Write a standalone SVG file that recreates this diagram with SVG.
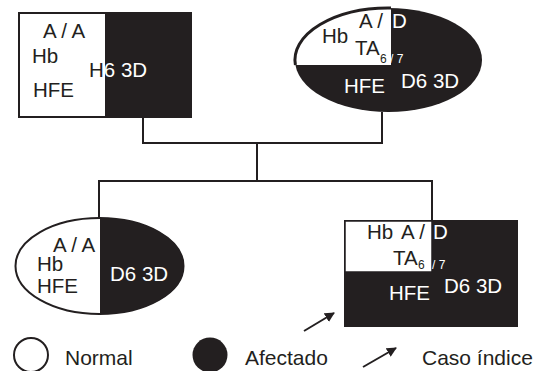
<svg xmlns="http://www.w3.org/2000/svg" width="534" height="371" viewBox="0 0 534 371">
<style>
text{font-family:"Liberation Sans",Arial,sans-serif;font-size:20.5px;fill:#231f20}
.w{fill:#fff}
.sub{font-size:12px}
.lg{font-size:21px}
.line{fill:none;stroke:#231f20;stroke-width:2}
.dark{fill:#231f20}
</style>
<defs>
<marker id="ah" viewBox="0 0 10 10" refX="9" refY="5" markerWidth="10" markerHeight="10" markerUnits="userSpaceOnUse" orient="auto">
<path d="M0,0 L10,5 L0,10 Z" fill="#231f20"/>
</marker>
</defs>
<rect width="534" height="371" fill="#fff"/>
<g id="connectors">
<path class="line" d="M143,118 V143 H382 V112"/>
<path class="line" d="M257,143 V181"/>
<path class="line" d="M99,219 V181 H432 V220"/>
<path class="line" stroke-width="1.5" d="M304,331 L334,313" marker-end="url(#ah)"/>
</g>
<g id="father">
<rect class="dark" x="106" y="12" width="86" height="106"/>
<rect x="19" y="13" width="87" height="104" fill="#fff" stroke="#231f20" stroke-width="2"/>
<text x="43" y="38">A / A</text>
<text x="32" y="63">Hb</text>
<text x="89" y="77">H<tspan class="w">6 3D</tspan></text>
<text x="33" y="97">HFE</text>
</g>
<g id="mother">
<ellipse class="dark" cx="388.5" cy="60" rx="93.5" ry="52"/>
<path d="M391,65 L295.4,65 A93.5,52 0 0,1 391,8 Z" fill="#fff"/>
<path d="M295.4,65 A93.5,52 0 0,1 391,8" fill="none" stroke="#231f20" stroke-width="3"/>
<text x="359" y="28">A / <tspan class="w" x="392">D</tspan></text>
<text x="322" y="43">Hb</text>
<text x="355" y="55">TA<tspan class="sub" x="380" y="63">6 <tspan class="w">/ 7</tspan></tspan></text>
<text class="w" x="344" y="93">HFE</text>
<text class="w" x="401" y="88">D6 3D</text>
</g>
<g id="daughter">
<ellipse cx="99.5" cy="266" rx="84" ry="48" fill="#fff" stroke="#231f20" stroke-width="2"/>
<path class="dark" d="M100,218 A84,48 0 0,1 100,314 Z"/>
<text x="53" y="252">A / A</text>
<text x="37" y="271">Hb</text>
<text x="37" y="293">HFE</text>
<text class="w" x="110" y="281">D6 3D</text>
</g>
<g id="son">
<rect class="dark" x="344" y="220" width="174" height="107"/>
<rect x="345" y="221" width="87" height="51" fill="#fff" stroke="#231f20" stroke-width="1.5"/>
<text x="367" y="239">Hb</text>
<text x="401" y="239">A / <tspan class="w" x="433">D</tspan></text>
<text x="393" y="265">TA<tspan class="sub" x="418" y="269">6 <tspan class="w" x="432">/ 7</tspan></tspan></text>
<text class="w" x="389" y="300">HFE</text>
<text class="w" x="444" y="293">D6 3D</text>
</g>
<g id="legend">
<circle cx="31" cy="355" r="17" fill="#fff" stroke="#231f20" stroke-width="2"/>
<text class="lg" x="65" y="365">Normal</text>
<circle class="dark" cx="210" cy="355" r="17.5"/>
<text class="lg" x="245" y="365">Afectado</text>
<path class="line" stroke-width="1.5" d="M363,367 L396,348" marker-end="url(#ah)"/>
<text class="lg" x="422" y="365">Caso índice</text>
</g>
</svg>
